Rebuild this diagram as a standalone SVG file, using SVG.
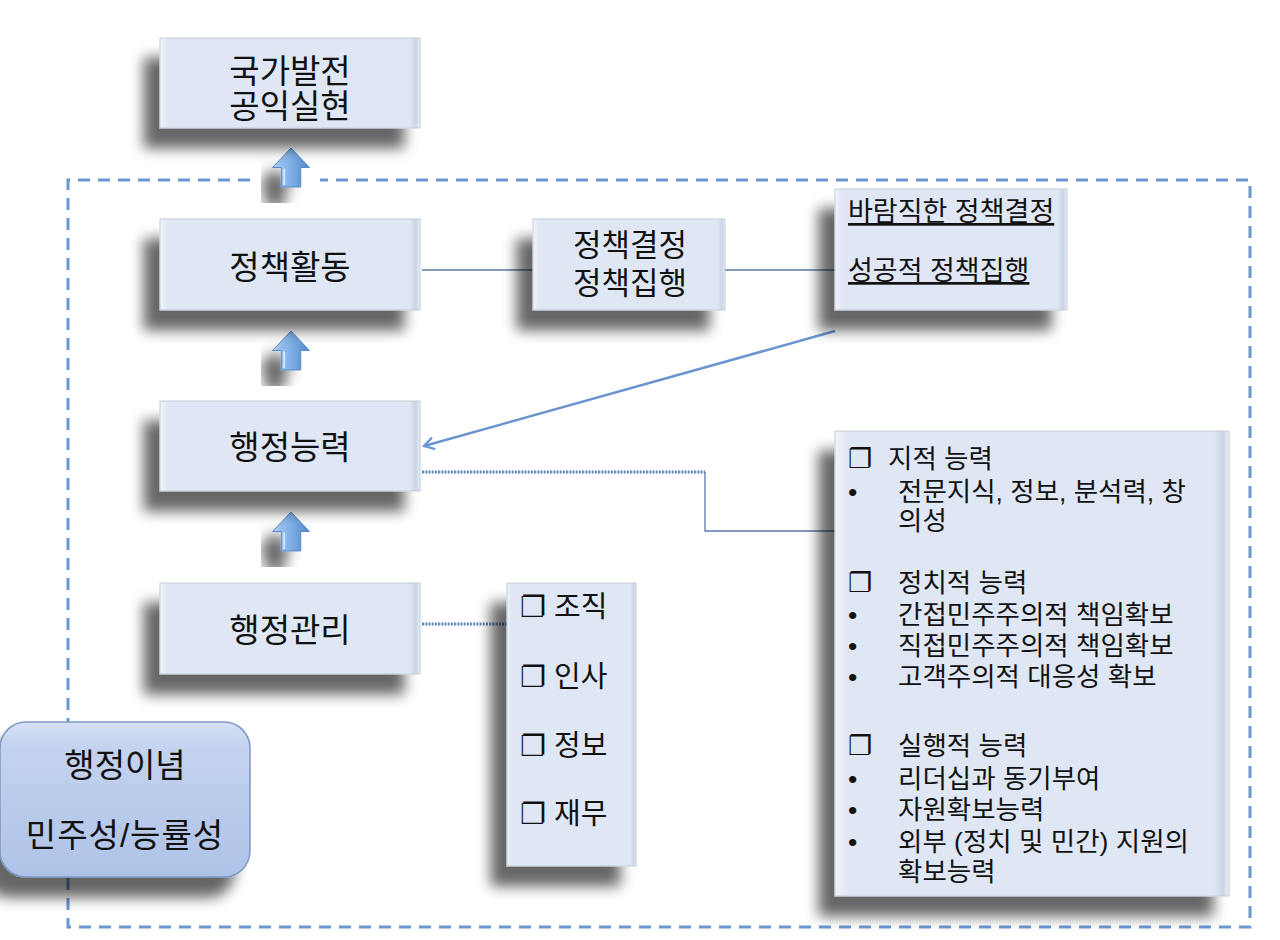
<svg xmlns="http://www.w3.org/2000/svg" width="1280" height="940" viewBox="0 0 1280 940">
<defs>
<filter id="sh" x="-30%" y="-30%" width="160%" height="170%">
<feGaussianBlur in="SourceAlpha" stdDeviation="7"/>
<feOffset dx="-16" dy="20" result="b"/>
<feComponentTransfer in="b" result="c"><feFuncA type="linear" slope="0.6"/></feComponentTransfer>
<feMerge><feMergeNode in="c"/><feMergeNode in="SourceGraphic"/></feMerge>
</filter>
<linearGradient id="boxg" x1="0" y1="0" x2="1" y2="0">
<stop offset="0" stop-color="#f2f5fb"/>
<stop offset="0.03" stop-color="#dfe7f4"/>
<stop offset="0.96" stop-color="#dfe7f4"/>
<stop offset="0.985" stop-color="#c9d4e6"/>
<stop offset="1" stop-color="#eef2f9"/>
</linearGradient>
<linearGradient id="idg" x1="0" y1="0" x2="0" y2="1">
<stop offset="0" stop-color="#d6e1f5"/>
<stop offset="0.15" stop-color="#c4d3ef"/>
<stop offset="1" stop-color="#aec3e8"/>
</linearGradient>
<linearGradient id="arg" x1="0" y1="0" x2="1" y2="0">
<stop offset="0" stop-color="#a9cbef"/>
<stop offset="0.5" stop-color="#7fb0e6"/>
<stop offset="1" stop-color="#4f86cc"/>
</linearGradient>
<marker id="open" viewBox="0 0 14 14" refX="12" refY="7" markerWidth="14" markerHeight="14" markerUnits="userSpaceOnUse" orient="auto">
<path d="M2,1 L12,7 L2,13" fill="none" stroke="#6a94cf" stroke-width="2.2"/>
</marker>
<symbol id="uparrow" viewBox="0 0 38 40" overflow="visible">
<path d="M19,0 L38,20 L29,20 L29,40 L9,40 L9,20 L0,20 Z" fill="url(#arg)" stroke="#5a88c4" stroke-width="1"/>
<path d="M12,21 L12,38" stroke="#d7e7f8" stroke-width="2"/>
</symbol>
</defs>
<style>
.box{fill:url(#boxg);stroke:#c3cbd8;stroke-width:1}
.t{font-family:"Liberation Sans","Noto Sans CJK KR",sans-serif;fill:#111}
.big{font-size:33px;text-anchor:middle}
.mid{font-size:31px;text-anchor:middle}
.sm{font-size:26.5px}
.u{text-decoration:underline}
.solid{stroke:#5877a8;stroke-width:1.3;fill:none}
.dot{stroke:#5a86c0;stroke-width:3;stroke-dasharray:2 1.2;fill:none}
.border{stroke:#6b96d2;stroke-width:3;stroke-dasharray:12 8;fill:none}
</style>
<rect width="1280" height="940" fill="#ffffff"/>

<g id="frame">
<path class="border" d="M250,180 L68,180 L68,927 L1250,927 L1250,180 L320,180"/>
</g>

<g id="arrows-up">
<g filter="url(#sh)"><use href="#uparrow" x="272" y="148" width="38" height="39"/></g>
<g filter="url(#sh)"><use href="#uparrow" x="272" y="331" width="38" height="39"/></g>
<g filter="url(#sh)"><use href="#uparrow" x="272" y="512" width="38" height="39"/></g>
</g>

<g id="connectors">
<line class="solid" x1="422" y1="270" x2="533" y2="270"/>
<line class="solid" x1="725" y1="270" x2="835" y2="270"/>
<line x1="835" y1="331" x2="424" y2="446" stroke="#6a94cf" stroke-width="2.5" marker-end="url(#open)"/>
<line class="dot" x1="422" y1="472" x2="705" y2="472"/>
<path class="solid" d="M705,472 L705,531 L835,531"/>
<line class="dot" x1="422" y1="624" x2="507" y2="624"/>
</g>

<g id="n-goal">
<rect class="box" x="160" y="38" width="260" height="90" filter="url(#sh)"/>
<text class="t big" x="290" y="83">국가발전</text>
<text class="t big" x="290" y="118">공익실현</text>
</g>

<g id="n-policy">
<rect class="box" x="160" y="219" width="260" height="91" filter="url(#sh)"/>
<text class="t big" x="290" y="279">정책활동</text>
</g>

<g id="n-policy-steps">
<rect class="box" x="533" y="219" width="192" height="91" filter="url(#sh)"/>
<text class="t mid" x="630" y="256">정책결정</text>
<text class="t mid" x="630" y="294">정책집행</text>
</g>

<g id="n-policy-goals">
<rect class="box" x="835" y="189" width="232" height="121" filter="url(#sh)"/>
<text class="t u" font-size="27" x="848" y="221">바람직한 정책결정</text>
<text class="t u" font-size="27" x="848" y="280">성공적 정책집행</text>
</g>

<g id="n-capacity">
<rect class="box" x="160" y="401" width="260" height="90" filter="url(#sh)"/>
<text class="t big" x="290" y="459">행정능력</text>
</g>

<g id="n-management">
<rect class="box" x="160" y="583" width="260" height="91" filter="url(#sh)"/>
<text class="t big" x="290" y="642">행정관리</text>
</g>

<g id="n-management-items">
<rect class="box" x="507" y="583" width="129" height="283" filter="url(#sh)"/>
<text class="t" x="520" y="617" font-size="29">❐ 조직</text>
<text class="t" x="520" y="687" font-size="29">❐ 인사</text>
<text class="t" x="520" y="756" font-size="29">❐ 정보</text>
<text class="t" x="520" y="824" font-size="29">❐ 재무</text>
</g>

<g id="n-capacity-items">
<rect class="box" x="835" y="431" width="394" height="465" filter="url(#sh)"/>
<g class="t sm">
<text x="848" y="468">❐</text><text x="888" y="468">지적 능력</text>
<text x="848" y="501">•</text><text x="898" y="501">전문지식, 정보, 분석력, 창</text>
<text x="898" y="530">의성</text>
<text x="848" y="592">❐</text><text x="898" y="592">정치적 능력</text>
<text x="848" y="624">•</text><text x="898" y="624">간접민주주의적 책임확보</text>
<text x="848" y="655">•</text><text x="898" y="655">직접민주주의적 책임확보</text>
<text x="848" y="686">•</text><text x="898" y="686">고객주의적 대응성 확보</text>
<text x="848" y="755">❐</text><text x="898" y="755">실행적 능력</text>
<text x="848" y="788">•</text><text x="898" y="788">리더십과 동기부여</text>
<text x="848" y="819">•</text><text x="898" y="819">자원확보능력</text>
<text x="848" y="851">•</text><text x="898" y="851">외부 (정치 및 민간) 지원의</text>
<text x="898" y="881">확보능력</text>
</g>
</g>

<g id="n-ideology">
<rect x="0" y="722" width="250" height="155" rx="26" fill="url(#idg)" stroke="#7f98c4" stroke-width="1.5" filter="url(#sh)"/>
<text class="t" x="125" y="777" font-size="33" text-anchor="middle">행정이념</text>
<text class="t" x="125" y="847" font-size="33" text-anchor="middle" letter-spacing="1">민주성/능률성</text>
</g>
</svg>
